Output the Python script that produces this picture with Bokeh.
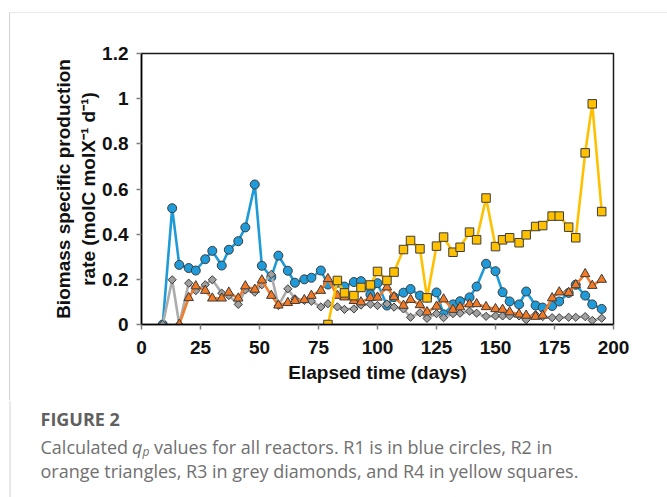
import numpy as np
from bokeh.plotting import figure
from bokeh.layouts import column, row
from bokeh.models import Range1d, FixedTicker, Label, Div
from bokeh.embed import file_html
from bokeh.resources import INLINE

# ---- data (elapsed days and q_p values) ----
days_all = [9, 13, 16, 20, 23, 27, 30, 34, 37, 41, 44, 48, 51, 55, 58, 62, 65, 69,
            72, 76, 79, 83, 86, 90, 93, 97, 100, 104, 107, 111, 114, 118, 121, 125,
            128, 132, 135, 139, 142, 146, 150, 153, 156, 160, 163, 167, 170, 174,
            177, 181, 184, 188, 191, 195]

r1_days = days_all
r1_vals = [0, 0.515, 0.264, 0.25, 0.239, 0.289, 0.326, 0.261, 0.331, 0.369, 0.43,
           0.62, 0.26, 0.21, 0.305, 0.238, 0.185, 0.2, 0.207, 0.239, 0.177, 0.185,
           0.168, 0.188, 0.192, 0.133, 0.183, 0.084, 0.121, 0.141, 0.157, 0.128,
           0.12, 0.142, 0.045, 0.089, 0.103, 0.12, 0.168, 0.269, 0.236, 0.143,
           0.102, 0.089, 0.146, 0.084, 0.075, 0.082, 0.102, 0.14, 0.176, 0.128,
           0.089, 0.069]

r2_days = days_all[2:]
r2_vals = [0, 0.118, 0.17, 0.15, 0.116, 0.116, 0.142, 0.116, 0.17, 0.155, 0.196,
           0.128, 0.085, 0.096, 0.105, 0.109, 0.128, 0.15, 0.202, 0.128, 0.121,
           0.105, 0.099, 0.118, 0.12, 0.165, 0.122, 0.084, 0.11, 0.087, 0.055, 0.08,
           0.112, 0.066, 0.077, 0.09, 0.091, 0.078, 0.069, 0.066, 0.055, 0.045,
           0.04, 0.035, 0.04, 0.117, 0.143, 0.141, 0.175, 0.224, 0.172, 0.199]

r3_days = days_all
r3_vals = [0, 0.198, 0, 0.183, 0.15, 0.176, 0.198, 0.139, 0.128, 0.089, 0.153,
           0.143, 0.176, 0.222, 0.084, 0.158, 0.114, 0.107, 0.103, 0.078, 0.092,
           0.078, 0.067, 0.069, 0.086, 0.09, 0.084, 0.091, 0.077, 0.069, 0.032,
           0.052, 0.027, 0.048, 0.03, 0.048, 0.05, 0.059, 0.05, 0.036, 0.038,
           0.038, 0.038, 0.038, 0.021, 0.043, 0.035, 0.03, 0.03, 0.032, 0.032,
           0.035, 0.018, 0.028]

r4_days = days_all[20:]
r4_vals = [0, 0.195, 0.14, 0.128, 0.164, 0.175, 0.235, 0.195, 0.232, 0.332, 0.372,
           0.335, 0.118, 0.347, 0.387, 0.32, 0.342, 0.409, 0.375, 0.56, 0.345,
           0.375, 0.384, 0.362, 0.397, 0.434, 0.438, 0.48, 0.48, 0.431, 0.384,
           0.76, 0.977, 0.5]

x_ticks = [0, 25, 50, 75, 100, 125, 150, 175, 200]
y_ticks = [0, 0.2, 0.4, 0.6, 0.8, 1.0, 1.2]
y_tick_labels = ["0", "0.2", "0.4", "0.6", "0.8", "1", "1.2"]

x_title = "Elapsed time (days)"
y_title = "Biomass specific production\nrate (molC molX\u207b\u00b9 d\u207b\u00b9)"

caption_head = "FIGURE 2"
caption_1a = "Calculated"
caption_q = "q"
caption_p = "p"
caption_1b = "values for all reactors. R1 is in blue circles, R2 in"
caption_2 = "orange triangles, R3 in grey diamonds, and R4 in yellow squares."

W, H = 667, 497
TOP_H = 13        # strip holding the card's top border
LEFT_W = 10       # strip holding the card's left border
MAIN_BOTTOM = 400 # page y where the chart figure ends
BORDER = "#d2d2d2"


def blank(w, h, xr, yr):
    f = figure(width=w, height=h, output_backend="svg", toolbar_location=None,
               x_range=Range1d(*xr), y_range=Range1d(*yr),
               x_axis_type=None, y_axis_type=None, min_border=0)
    f.outline_line_color = None
    f.background_fill_color = "white"
    f.border_fill_color = "white"
    return f


# ---- card border strips ----
top = blank(W, TOP_H, (0, W), (TOP_H, 0))
top.line([9, W], [12.5, 12.5], line_color=BORDER, line_width=1)
top.line([9.5, 9.5], [12, TOP_H], line_color=BORDER, line_width=1)

left = Div(text="", width=LEFT_W, height=MAIN_BOTTOM - TOP_H, margin=0,
           styles={"box-sizing": "border-box",
                   "border-right": "1px solid " + BORDER,
                   "background-color": "white"})

# ---- main chart ----
AX_FONT = "Liberation Sans"
p = figure(width=W - LEFT_W, height=MAIN_BOTTOM - TOP_H,
           output_backend="svg", toolbar_location=None,
           x_range=Range1d(0, 200), y_range=Range1d(0, 1.2),
           min_border_left=141 - LEFT_W, min_border_right=W - 613,
           min_border_top=53 - TOP_H, min_border_bottom=MAIN_BOTTOM - 324)
p.background_fill_color = "white"
p.border_fill_color = "white"
p.outline_line_color = "#1a1a1a"
p.outline_line_width = 1.5
p.xgrid.visible = False
p.ygrid.visible = False

for ax in (p.xaxis[0], p.yaxis[0]):
    ax.axis_line_color = "black"
    ax.axis_line_width = 1.5
    ax.major_tick_in = 0
    ax.major_tick_out = 5
    ax.major_tick_line_color = "#808080"
    ax.major_tick_line_width = 1.5
    ax.minor_tick_out = 0
    ax.minor_tick_in = 0
    ax.major_label_text_font = AX_FONT
    ax.major_label_text_font_style = "bold"
    ax.major_label_text_font_size = "19px"
    ax.major_label_text_color = "#111111"
    ax.axis_label_text_font = AX_FONT
    ax.axis_label_text_font_style = "bold"
    ax.axis_label_text_font_size = "19px"
    ax.axis_label_text_color = "#111111"

p.xaxis.major_label_standoff = 11
p.yaxis.major_label_standoff = 8
p.xaxis.ticker = FixedTicker(ticks=x_ticks)
p.yaxis.ticker = FixedTicker(ticks=y_ticks)
p.yaxis.major_label_overrides = {t: s for t, s in zip(y_ticks, y_tick_labels)}
p.xaxis.axis_label = x_title
p.yaxis.axis_label = y_title
p.xaxis.axis_label_standoff = 5
p.yaxis.axis_label_standoff = 0

series = [
    (r1_days, r1_vals, "#1e9bd7", "#1e9bd8", "circle", 9, 0),
    (r3_days, r3_vals, "#acacac", "#a0a0a0", "square", 5.8, np.pi / 4),
    (r2_days, r2_vals, "#f07c2c", "#f37a24", "triangle", 9.5, 0),
    (r4_days, r4_vals, "#ffc000", "#ffc000", "square", 8.5, 0),
]
for d, v, lc, fc, mk, sz, ang in series:
    p.line(d, v, line_color=lc, line_width=2.6)
    p.scatter(d, v, marker=mk, size=sz, angle=ang, fill_color=fc,
              line_color="#3c3c3c", line_width=1)

# ---- caption (coordinates are page pixels) ----
cap = blank(W, H - MAIN_BOTTOM, (0, W), (H, MAIN_BOTTOM))
cap.line([9.5, 9.5], [MAIN_BOTTOM, H], line_color=BORDER, line_width=1)

CAP_FONT = "Open Sans"
def caption(text, x, y, size="18px", style="normal", color="#707070"):
    cap.add_layout(Label(x=x, y=y, text=text, text_font=CAP_FONT,
                         text_font_size=size, text_font_style=style,
                         text_color=color, text_baseline="middle",
                         text_align="left"))

caption(caption_head, 40, 418, size="18px", style="bold", color="#606060")
caption(caption_1a, 40, 446)
caption(caption_q, 131.5, 446, style="italic")
caption(caption_p, 142, 451, size="12px", style="italic")
caption(caption_1b, 153.5, 446)
caption(caption_2, 40, 470)

layout = column(top, row(left, p), cap)
open("out.html", "w").write(file_html(layout, INLINE))
